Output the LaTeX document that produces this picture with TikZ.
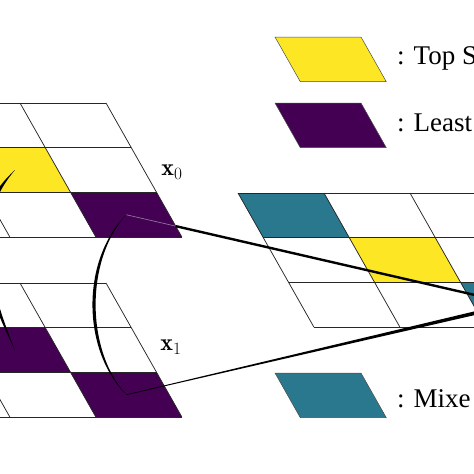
\documentclass[tikz,border=0pt]{standalone}
\usepackage{fontspec}
\newfontfamily\legfont{Liberation Serif}
\usetikzlibrary{calc}
\definecolor{topsel}{RGB}{253,231,37}
\definecolor{least}{RGB}{68,1,84}
\definecolor{mixed}{RGB}{42,120,142}
\definecolor{faint}{RGB}{150,130,160}

\begin{document}
\begin{tikzpicture}[
    x=1pt, y=-1pt,
    grid/.style={x={(86pt,0pt)}, y={(25.3pt,-44.7pt)}},
    gridline/.style={draw=black!85, line width=0.75pt},
    legcell/.style={draw=black!70, line width=0.5pt, fill=#1},
    legtext/.style={anchor=base west, inner sep=0pt, font=\legfont\fontsize{27}{30}\selectfont},
    lbl/.style={inner sep=0pt, font=\fontsize{24}{26}\selectfont},
  ]
    \useasboundingbox (0,0) rectangle (474,474);
    \clip (0,0) rectangle (474,474);

    % first frame
    \begin{scope}[shift={(-152,103)}, grid]
      \fill[topsel] (1,1) -- (2,1) -- (2,2) -- (1,2) -- cycle;
      \fill[least] (2,2) -- (3,2) -- (3,3) -- (2,3) -- cycle;
      \foreach \j in {0,...,3} \draw[gridline] (0,\j) -- (3,\j);
      \foreach \i in {0,...,3} \draw[gridline] (\i,0) -- (\i,3);
      \coordinate (c0) at (1.5,1.5);
      \coordinate (a0) at (2.5,2.5);
    \end{scope}

    % second frame
    \begin{scope}[shift={(-152,283)}, grid]
      \fill[least] (1,1) -- (2,1) -- (2,2) -- (1,2) -- cycle;
      \fill[least] (2,2) -- (3,2) -- (3,3) -- (2,3) -- cycle;
      \foreach \j in {0,...,3} \draw[gridline] (0,\j) -- (3,\j);
      \foreach \i in {0,...,3} \draw[gridline] (\i,0) -- (\i,3);
      \coordinate (c1) at (1.5,1.5);
      \coordinate (a1) at (2.5,2.5);
    \end{scope}

    % merged frame
    \begin{scope}[shift={(238,193)}, grid]
      \fill[mixed] (0,0) -- (1,0) -- (1,1) -- (0,1) -- cycle;
      \fill[topsel] (1,1) -- (2,1) -- (2,2) -- (1,2) -- cycle;
      \fill[mixed] (2,2) -- (3,2) -- (3,3) -- (2,3) -- cycle;
      \foreach \j in {0,...,3} \draw[gridline] (0,\j) -- (4,\j);
      \foreach \i in {0,...,4} \draw[gridline] (\i,0) -- (\i,3);
    \end{scope}

    % legend
    \begin{scope}[shift={(275,37)}, grid]
      \draw[legcell=topsel] (0,0) -- (1,0) -- (1,1) -- (0,1) -- cycle;
    \end{scope}
    \begin{scope}[shift={(275,103)}, grid]
      \draw[legcell=least] (0,0) -- (1,0) -- (1,1) -- (0,1) -- cycle;
    \end{scope}
    \begin{scope}[shift={(275,373)}, grid]
      \draw[legcell=mixed] (0,0) -- (1,0) -- (1,1) -- (0,1) -- cycle;
    \end{scope}
    \node[legtext] (ltop) at (397,64) {: Top S};
    \node[legtext] (lleast) at (397,131) {: Least};
    \node[legtext] (lmixed) at (397,407) {: Mixe};

    \node[lbl] (x0) at (172,172) {$\mathbf{x}_0$};
    \node[lbl] (x1) at (171,347) {$\mathbf{x}_1$};

    % brush arcs between frames
    \fill (c0) .. controls (-32,212) and (-26,268) .. (c1)
          .. controls (-18,268) and (-24,216) .. (c0) -- cycle;
    \fill (a0) .. controls (81.2,259.7) and (81.2,349.7) .. (a1)
          .. controls (85.4,349.7) and (85.4,259.7) .. (a0) -- cycle;

    % projection lines
    \coordinate (focus) at (514,304);
    \coordinate (a0exit) at ($(a0)!0.1273!(focus)$);
    \draw[faint, line width=0.6pt] (a0) -- (a0exit);
    \draw[line width=2.4pt] (a0exit) -- (focus);
    \fill ($(a1)!0.3pt!90:(focus)$) -- ($(focus)!2pt!-90:(a1)$)
          -- ($(focus)!2pt!90:(a1)$) -- ($(a1)!0.3pt!-90:(focus)$) -- cycle;
  \end{tikzpicture}
\end{document}
